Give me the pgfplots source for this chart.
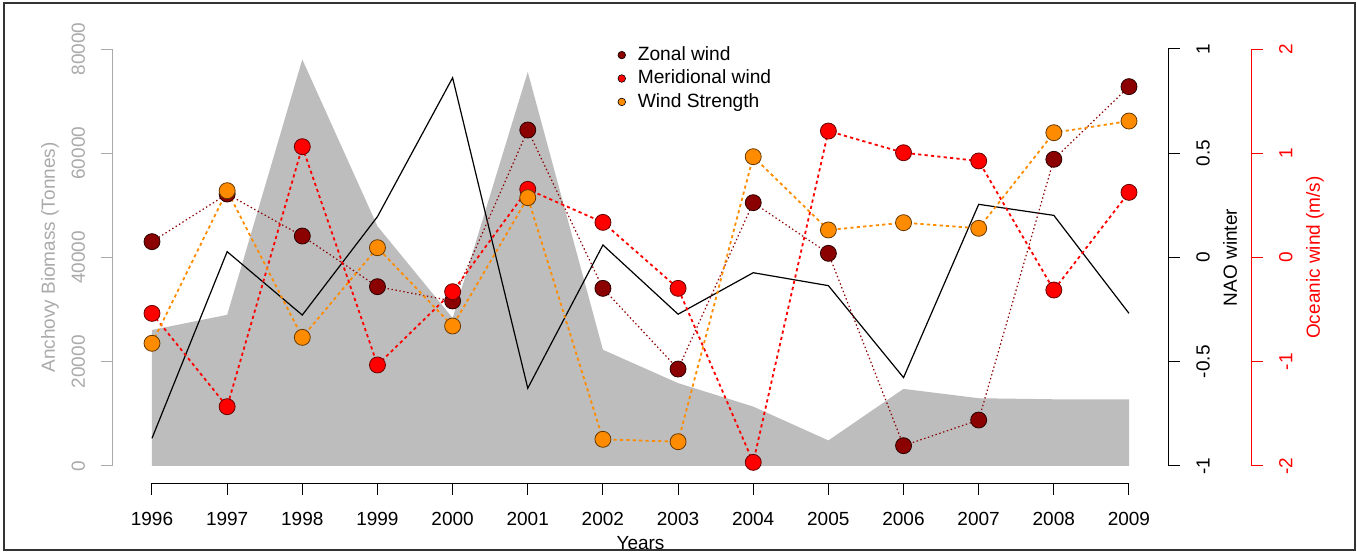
\documentclass[border=0pt]{standalone}
\usepackage{fontspec}
\setmainfont{Liberation Sans}
\usepackage{pgfplots}
\usepackage{pgfplotstable}
\pgfplotsset{compat=1.18}
\definecolor{bio}{RGB}{189,189,189}
\definecolor{axgray}{RGB}{170,170,170}
\definecolor{zon}{RGB}{139,0,0}
\definecolor{mer}{RGB}{255,0,0}
\definecolor{wst}{RGB}{255,140,0}

\pgfplotstableread{
year biomass nao zonal merid strength
1996 26100 -0.867 0.152 -0.536 -0.823
1997 29000 0.028 0.609 -1.431 0.641
1998 78000 -0.276 0.206 1.063 -0.766
1999 46000 0.196 -0.280 -1.031 0.094
2000 28400 0.862 -0.417 -0.328 -0.657
2001 75600 -0.627 1.223 0.654 0.574
2002 22300 0.060 -0.296 0.337 -1.744
2003 15900 -0.272 -1.070 -0.296 -1.767
2004 11400 -0.073 0.526 -1.965 0.967
2005 4900 -0.135 0.040 1.213 0.264
2006 14800 -0.576 -1.805 1.005 0.334
2007 13000 0.255 -1.559 0.926 0.280
2008 12800 0.202 0.942 -0.312 1.197
2009 12800 -0.268 1.639 0.625 1.309
}\data

\pgfplotsset{
  base/.style={
    width=488.5pt, height=208.5pt, scale only axis,
    xmin=1996, xmax=2009, clip=false,
    font=\fontsize{9.5}{11}\selectfont,
    /pgf/number format/assume math mode=true,
    /pgf/number format/1000 sep={},
    tick align=outside, major tick length=5.8pt,
    axis line style={line width=0.5pt},
    every tick/.style={line width=0.5pt},
  }
}

\begin{document}
\begin{tikzpicture}
\useasboundingbox (-76pt,-43pt) rectangle (602.5pt,233pt);

% Biomass axis (left, gray) with x axis
\begin{axis}[base,
  ymin=0, ymax=80000,
  axis x line*=bottom, axis y line*=left,
  axis x line shift=8.65pt, axis y line shift=19.85pt,
  xtick={1996,1997,...,2009},
  ytick={0,20000,40000,60000,80000},
  scaled y ticks=false,
  y axis line style={axgray},
  ytick style={axgray},
  yticklabel style={rotate=90, anchor=center, color=axgray, yshift=11.2pt},
  xticklabel style={anchor=center, yshift=-12pt},
  xlabel={Years},
  ylabel={Anchovy Biomass (Tonnes)},
  every axis x label/.style={at={(axis description cs:0.5,-0.1847)}, anchor=center},
  every axis y label/.style={at={(axis description cs:-0.1044,0.5)}, anchor=center, rotate=90, color=axgray},
]
\addplot[fill=bio, draw=none] table[x=year, y=biomass]{\data} \closedcycle;
\end{axis}

% NAO axis (right, black)
\begin{axis}[base,
  ymin=-1, ymax=1,
  axis x line=none, axis y line*=right,
  axis y line shift=19.65pt,
  ytick={-1,-0.5,0,0.5,1},
  yticklabel style={rotate=90, anchor=center, yshift=-11.6pt},
  ylabel={NAO winter},
  every axis y label/.style={at={(axis description cs:1.1034,0.5)}, anchor=center, rotate=90},
]
\addplot[black, line width=0.6pt] table[x=year, y=nao]{\data};
\end{axis}

% Wind axis (right, red)
\begin{axis}[base,
  ymin=-2, ymax=2,
  axis x line=none, axis y line*=right,
  axis y line shift=61pt,
  y axis line style={red},
  ytick style={red},
  ytick={-2,-1,0,1,2},
  yticklabel style={rotate=90, anchor=center, yshift=-11.6pt, color=red},
  ylabel={Oceanic wind (m/s)},
  every axis y label/.style={at={(axis description cs:1.1904,0.5)}, anchor=center, rotate=90, color=red},
  legend style={at={(rel axis cs:0.4704,1.0258)}, anchor=north west, draw=none, fill=none,
    font=\fontsize{9.6}{11}\selectfont, row sep=-0.75pt},
  legend cell align=left,
  legend image code/.code={\draw[#1] plot coordinates {(0.3cm,0cm)}; \path (0.3cm,0cm) ++(5.8pt,0pt);},
]
\addlegendimage{only marks, mark=*, mark size=1.9pt, mark options={fill=zon, draw=black, line width=0.3pt}}
\addlegendentry{Zonal wind}
\addlegendimage{only marks, mark=*, mark size=1.9pt, mark options={fill=mer, draw=black, line width=0.3pt}}
\addlegendentry{Meridional wind}
\addlegendimage{only marks, mark=*, mark size=1.9pt, mark options={fill=wst, draw=black, line width=0.3pt}}
\addlegendentry{Wind Strength}
\addplot[forget plot, zon, line width=0.6pt, dash pattern=on 0.7pt off 1.3pt, mark=*, mark size=4pt,
  mark options={solid, fill=zon, draw=black!70!zon, line width=0.4pt}] table[x=year, y=zonal]{\data};
\addplot[forget plot, mer, line width=0.9pt, dash pattern=on 1.6pt off 1.6pt, mark=*, mark size=4pt,
  mark options={solid, fill=mer, draw=black!60!mer, line width=0.4pt}] table[x=year, y=merid]{\data};
\addplot[forget plot, wst, line width=0.9pt, dash pattern=on 1.6pt off 1.6pt, mark=*, mark size=4pt,
  mark options={solid, fill=wst, draw=black!60!wst, line width=0.4pt}] table[x=year, y=strength]{\data};
\end{axis}

\draw[black!80, line width=0.6pt] (-74pt,-42pt) rectangle (601.5pt,231.5pt);
\end{tikzpicture}
\end{document}
